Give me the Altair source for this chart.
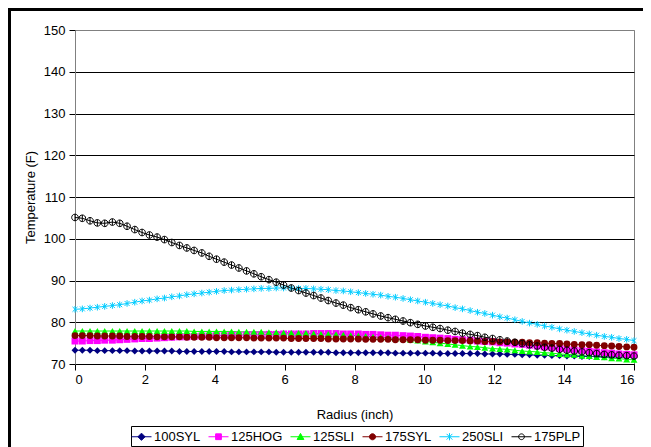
import altair as alt
import pandas as pd

radius = [0.0, 0.21, 0.43, 0.64, 0.85, 1.07, 1.28, 1.49, 1.71, 1.92,
          2.13, 2.35, 2.56, 2.77, 2.99, 3.2, 3.41, 3.63, 3.84, 4.05,
          4.27, 4.48, 4.69, 4.91, 5.12, 5.33, 5.55, 5.76, 5.97, 6.19,
          6.4, 6.61, 6.83, 7.04, 7.25, 7.47, 7.68, 7.89, 8.11, 8.32,
          8.53, 8.75, 8.96, 9.17, 9.39, 9.6, 9.81, 10.03, 10.24, 10.45,
          10.67, 10.88, 11.09, 11.31, 11.52, 11.73, 11.95, 12.16, 12.37, 12.59,
          12.8, 13.01, 13.23, 13.44, 13.65, 13.87, 14.08, 14.29, 14.51, 14.72,
          14.93, 15.15, 15.36, 15.57, 15.79, 16.0]

names = ["100SYL", "125HOG", "125SLI", "175SYL", "250SLI", "175PLP"]

syl100 = [73.3, 73.3, 73.3, 73.2, 73.2, 73.2, 73.2, 73.2, 73.1, 73.1,
          73.1, 73.1, 73.1, 73.1, 73.0, 73.0, 73.0, 73.0, 73.0, 73.0,
          73.0, 72.9, 72.9, 72.9, 72.9, 72.9, 72.9, 72.8, 72.8, 72.8,
          72.8, 72.8, 72.8, 72.8, 72.8, 72.7, 72.7, 72.7, 72.7, 72.7,
          72.7, 72.7, 72.7, 72.6, 72.6, 72.6, 72.6, 72.6, 72.6, 72.5,
          72.5, 72.5, 72.5, 72.5, 72.5, 72.4, 72.4, 72.4, 72.3, 72.3,
          72.2, 72.2, 72.1, 72.1, 72.0, 72.0, 71.9, 71.9, 71.8, 71.8,
          71.8, 71.7, 71.7, 71.7, 71.6, 71.6]

hog125 = [75.5, 75.5, 75.6, 75.6, 75.7, 75.7, 75.8, 75.9, 76.0, 76.1,
          76.1, 76.2, 76.3, 76.4, 76.5, 76.5, 76.6, 76.7, 76.7, 76.8,
          76.8, 76.9, 76.9, 77.0, 77.0, 77.0, 77.1, 77.1, 77.2, 77.2,
          77.2, 77.2, 77.3, 77.3, 77.3, 77.3, 77.2, 77.2, 77.2, 77.1,
          77.1, 77.0, 76.9, 76.9, 76.8, 76.7, 76.6, 76.4, 76.3, 76.2,
          76.1, 75.9, 75.8, 75.7, 75.5, 75.4, 75.3, 75.1, 75.0, 74.8,
          74.7, 74.5, 74.3, 74.1, 73.9, 73.7, 73.5, 73.3, 73.2, 73.0,
          72.9, 72.7, 72.6, 72.4, 72.3, 72.2]

sli125 = [77.9, 77.9, 77.9, 77.9, 77.9, 77.9, 77.9, 77.9, 77.9, 77.9,
          77.9, 77.9, 77.9, 77.9, 77.9, 77.9, 77.8, 77.8, 77.8, 77.8,
          77.8, 77.8, 77.7, 77.7, 77.7, 77.7, 77.6, 77.6, 77.5, 77.5,
          77.4, 77.4, 77.3, 77.2, 77.2, 77.1, 77.0, 76.9, 76.8, 76.7,
          76.5, 76.4, 76.3, 76.1, 76.0, 75.8, 75.6, 75.4, 75.2, 75.0,
          74.8, 74.6, 74.4, 74.2, 74.1, 73.9, 73.7, 73.6, 73.5, 73.3,
          73.1, 73.0, 72.9, 72.7, 72.6, 72.4, 72.3, 72.2, 72.0, 71.9,
          71.7, 71.6, 71.4, 71.3, 71.1, 71.0]

syl175 = [76.8, 76.8, 76.8, 76.7, 76.7, 76.7, 76.7, 76.6, 76.6, 76.6,
          76.6, 76.5, 76.5, 76.5, 76.5, 76.4, 76.4, 76.4, 76.4, 76.3,
          76.3, 76.3, 76.3, 76.3, 76.2, 76.2, 76.2, 76.2, 76.2, 76.1,
          76.1, 76.1, 76.1, 76.1, 76.0, 76.0, 76.0, 76.0, 76.0, 75.9,
          75.9, 75.9, 75.9, 75.8, 75.8, 75.8, 75.8, 75.7, 75.7, 75.7,
          75.6, 75.6, 75.6, 75.5, 75.5, 75.4, 75.4, 75.3, 75.3, 75.2,
          75.2, 75.1, 75.1, 75.0, 74.9, 74.9, 74.8, 74.7, 74.6, 74.6,
          74.5, 74.4, 74.3, 74.2, 74.1, 74.0]

sli250 = [83.1, 83.2, 83.4, 83.6, 83.8, 84.0, 84.2, 84.5, 84.8, 85.1,
          85.3, 85.6, 85.8, 86.1, 86.3, 86.6, 86.8, 87.0, 87.2, 87.4,
          87.6, 87.7, 87.8, 87.9, 88.0, 88.1, 88.1, 88.2, 88.2, 88.2,
          88.1, 88.1, 88.0, 87.9, 87.8, 87.6, 87.5, 87.3, 87.1, 86.9,
          86.7, 86.5, 86.2, 86.0, 85.7, 85.4, 85.1, 84.8, 84.5, 84.2,
          83.9, 83.5, 83.2, 82.8, 82.4, 82.1, 81.7, 81.3, 81.0, 80.6,
          80.2, 79.8, 79.5, 79.1, 78.8, 78.4, 78.1, 77.8, 77.5, 77.2,
          76.9, 76.6, 76.4, 76.1, 75.9, 75.6]

plp175 = [105.1, 104.9, 104.3, 103.8, 103.7, 104.0, 103.7, 103.0, 102.2, 101.5,
          100.9, 100.4, 99.8, 99.1, 98.4, 97.8, 97.2, 96.6, 95.8, 95.1,
          94.4, 93.7, 93.0, 92.3, 91.6, 90.9, 90.2, 89.6, 88.9, 88.2,
          87.6, 87.0, 86.4, 85.8, 85.2, 84.6, 84.1, 83.5, 83.0, 82.5,
          82.0, 81.5, 81.1, 80.7, 80.3, 79.9, 79.5, 79.1, 78.8, 78.5,
          78.1, 77.8, 77.4, 77.1, 76.8, 76.4, 76.1, 75.8, 75.5, 75.2,
          74.9, 74.6, 74.3, 74.0, 73.8, 73.5, 73.3, 73.1, 72.9, 72.7,
          72.5, 72.3, 72.2, 72.1, 72.0, 71.9]

x_ticks = [0, 2, 4, 6, 8, 10, 12, 14, 16]
y_ticks = [70, 80, 90, 100, 110, 120, 130, 140, 150]

colors = ["#000080", "#FF00FF", "#00FF00", "#800000", "#00CCFF", "#000000"]
legend_fill = ["#000080", "#FF00FF", "#00FF00", "#800000", "#00CCFF", "transparent"]

ASTER = "M0,-1L0,1M-0.75,-0.75L0.75,0.75M-0.75,0.75L0.75,-0.75"
OCIRC = "M-1,0A1,1 0 1,0 1,0A1,1 0 1,0 -1,0M0,-1L0,1"
point_shapes = ["diamond", "square", "triangle-up", "circle", ASTER, OCIRC]

# legend symbol box is 16px wide (unit = 8px); line spans 20px
LINE = "M-1.25,0L1.25,0"
legend_shapes = [
    LINE + "M0,-0.45L0.45,0L0,0.45L-0.45,0Z",
    LINE + "M-0.36,-0.36L0.36,-0.36L0.36,0.36L-0.36,0.36Z",
    LINE + "M0,-0.42L0.42,0.34L-0.42,0.34Z",
    LINE + "M-0.38,0A0.38,0.38 0 1,0 0.38,0A0.38,0.38 0 1,0 -0.38,0Z",
    LINE + "M0,-0.45L0,0.45M-0.36,-0.36L0.36,0.36M-0.36,0.36L0.36,-0.36",
    LINE + "M-0.36,0A0.36,0.36 0 1,0 0.36,0A0.36,0.36 0 1,0 -0.36,0",
]

rows = []
for name, vals in zip(names, [syl100, hog125, sli125, syl175, sli250, plp175]):
    for r, v in zip(radius, vals):
        rows.append({"series": name, "radius": r, "temp": v})
df = pd.DataFrame(rows)

W, H = 559, 334
FONT = "Liberation Sans"

x_enc = alt.X("radius:Q", scale=alt.Scale(domain=[0, 16], nice=False, zero=False),
              axis=alt.Axis(title="Radius (inch)", values=x_ticks, grid=False,
                            tickSize=6, labelPadding=3, titlePadding=22,
                            domainColor="#000000"))
y_enc = alt.Y("temp:Q", scale=alt.Scale(domain=[70, 150], nice=False, zero=False),
              axis=alt.Axis(title="Temperature (F)", values=y_ticks, grid=True,
                            gridColor={"condition": {"test": "datum.value >= 150", "value": "#808080"},
                                       "value": "#000000"},
                            tickSize=6, labelPadding=4, titlePadding=6,
                            domainColor="#808080"))

color_enc = alt.Color("series:N", scale=alt.Scale(domain=names, range=colors), legend=None)
shape_enc = alt.Shape("series:N", scale=alt.Scale(domain=names, range=point_shapes), legend=None)

base = alt.Chart(df)

lines = base.mark_line(strokeWidth=1).encode(x=x_enc, y=y_enc, color=color_enc,
                                             order="radius:Q")
filled_pts = base.transform_filter(
    alt.FieldOneOfPredicate(field="series", oneOf=names[:4])
).mark_point(filled=True, size=48, opacity=1).encode(x=x_enc, y=y_enc, color=color_enc, shape=shape_enc)
open_pts = base.transform_filter(
    alt.FieldOneOfPredicate(field="series", oneOf=names[4:])
).mark_point(filled=False, size=44, strokeWidth=1, opacity=1).encode(x=x_enc, y=y_enc, color=color_enc, shape=shape_enc)

leg = alt.Legend(title=None, orient="none", legendX=56, legendY=396, direction="horizontal",
                 columns=6, symbolSize=256, symbolStrokeWidth=1, labelOffset=4,
                 columnPadding=5, padding=2, strokeColor="#000000", fillColor="#FFFFFF",
                 labelFont=FONT, labelFontSize=13, labelColor="#000000")
legend_layer = base.transform_filter("false").mark_point(filled=True, opacity=1).encode(
    x=x_enc, y=y_enc,
    fill=alt.Fill("series:N", scale=alt.Scale(domain=names, range=legend_fill), legend=leg),
    stroke=alt.Stroke("series:N", scale=alt.Scale(domain=names, range=colors), legend=leg),
    shape=alt.Shape("series:N", scale=alt.Scale(domain=names, range=legend_shapes), legend=leg),
)

frame_df = pd.DataFrame({"k": [0]})
left_frame = alt.Chart(frame_df).mark_rule(color="black", strokeWidth=3).encode(
    x=alt.value(-65.5), y=alt.value(-22), y2=alt.value(H + 83))
top_frame = alt.Chart(frame_df).mark_rule(color="black", strokeWidth=3).encode(
    y=alt.value(-20.5), x=alt.value(-67), x2=alt.value(W + 9))

chart = alt.layer(lines, filled_pts, open_pts, legend_layer, left_frame, top_frame).resolve_scale(
    shape="independent", fill="independent", stroke="independent"
).properties(
    width=W, height=H,
    autosize=alt.AutoSizeParams(type="none"),
    padding={"left": 67, "top": 22, "right": 9, "bottom": 83},
    background="#FFFFFF",
).configure_view(
    stroke="#808080", strokeWidth=1
).configure_axis(
    labelFont=FONT, labelFontSize=13, labelColor="#000000",
    titleFont=FONT, titleFontSize=13, titleFontWeight="normal", titleColor="#000000",
    tickColor="#000000", gridWidth=1, domainWidth=1, tickWidth=1,
)

chart.save("out.html", embed_options={"renderer": "svg", "actions": False})
